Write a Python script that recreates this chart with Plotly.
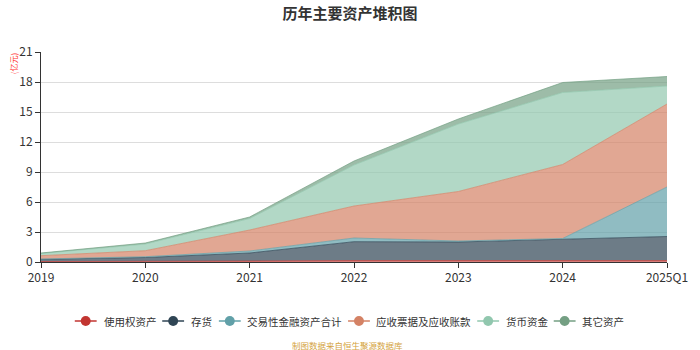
import plotly.graph_objects as go

categories = ["2019", "2020", "2021", "2022", "2023", "2024", "2025Q1"]
series_names = ["使用权资产", "存货", "交易性金融资产合计", "应收票据及应收账款", "货币资金", "其它资产"]
right_of_use = [0.05, 0.05, 0.10, 0.15, 0.15, 0.12, 0.15]
inventory = [0.22, 0.40, 0.80, 1.88, 1.85, 2.13, 2.40]
trading_assets = [0.03, 0.08, 0.20, 0.37, 0.10, 0.10, 4.95]
receivables = [0.33, 0.60, 2.10, 3.20, 4.95, 7.40, 8.30]
cash = [0.22, 0.67, 1.15, 4.10, 6.75, 7.20, 1.80]
other_assets = [0.05, 0.10, 0.15, 0.40, 0.50, 1.00, 0.95]

values = [right_of_use, inventory, trading_assets, receivables, cash, other_assets]
colors = ["#c23531", "#2f4554", "#61a0a8", "#d48265", "#91c7ae", "#749f83"]
fills = ["rgba(194,53,49,0.65)", "rgba(47,69,84,0.7)", "rgba(97,160,168,0.7)",
         "rgba(212,130,101,0.7)", "rgba(145,199,174,0.7)", "rgba(116,159,131,0.7)"]

font = "Noto Sans CJK SC, Noto Sans, sans-serif"

# plot area in pixels (for the hand-drawn legend)
L, R, T, B = 41, 671, 52, 262
def px(x):
    return (x - L) / (R - L)
def py(y):
    return (B - y) / (B - T)

fig = go.Figure()
for name, vals, c, f in zip(series_names, values, colors, fills):
    fig.add_trace(go.Scatter(
        x=categories, y=vals, name=name, stackgroup="one", mode="lines",
        line=dict(color=f, width=1), fillcolor=f, showlegend=False,
        hovertemplate=name + ": %{y}<extra></extra>"))

# legend (echarts style: line + circle icon)
legend_icon_x = [86, 174, 231, 361, 491, 568]
legend_text_x = [102, 190, 246, 376, 507, 583]
legend_y = 321
shapes = []
annotations = []
for name, c, ix, tx in zip(series_names, colors, legend_icon_x, legend_text_x):
    shapes.append(dict(type="line", xref="paper", yref="paper",
                       x0=px(ix - 11), x1=px(ix + 11), y0=py(legend_y), y1=py(legend_y),
                       line=dict(color=c, width=1.5)))
    shapes.append(dict(type="circle", xref="paper", yref="paper",
                       x0=px(ix - 5), x1=px(ix + 5), y0=py(legend_y - 5), y1=py(legend_y + 5),
                       line=dict(color=c, width=0), fillcolor=c))
    annotations.append(dict(text=name, x=px(tx), y=py(legend_y), xref="paper", yref="paper",
                            xanchor="left", yanchor="middle", showarrow=False,
                            font=dict(size=10.5, color="#333")))

annotations.append(dict(text="(亿元)", x=px(13), y=py(64), xref="paper", yref="paper",
                        xanchor="center", yanchor="middle", showarrow=False,
                        textangle=-90, font=dict(size=8, color="#ff3333")))
annotations.append(dict(text="制图数据来自恒生聚源数据库", x=px(349), y=py(345), xref="paper",
                        yref="paper", xanchor="center", yanchor="middle", showarrow=False,
                        font=dict(size=8.5, color="#d4a340")))

fig.update_layout(
    width=700, height=350,
    margin=dict(l=L, r=700 - R, t=T, b=350 - B),
    paper_bgcolor="white", plot_bgcolor="white",
    font=dict(family=font, size=12, color="#333"),
    title=dict(text="<b>历年主要资产堆积图</b>", x=0.5, xanchor="center", y=0.975, yanchor="top",
               font=dict(size=15, color="#333", family=font)),
    showlegend=False,
    xaxis=dict(type="category", range=[0, 6], showgrid=False, showline=True, linecolor="#333",
               ticks="outside", ticklen=5, tickcolor="#333", tickfont=dict(size=12, color="#333"),
               zeroline=False),
    yaxis=dict(range=[0, 21], dtick=3, showgrid=True, gridcolor="#ddd", showline=True,
               linecolor="#333", ticks="outside", ticklen=5, tickcolor="#333",
               tickfont=dict(size=12, color="#333"), zeroline=False),
    shapes=shapes,
    annotations=annotations,
)
fig.write_html("out.html")
